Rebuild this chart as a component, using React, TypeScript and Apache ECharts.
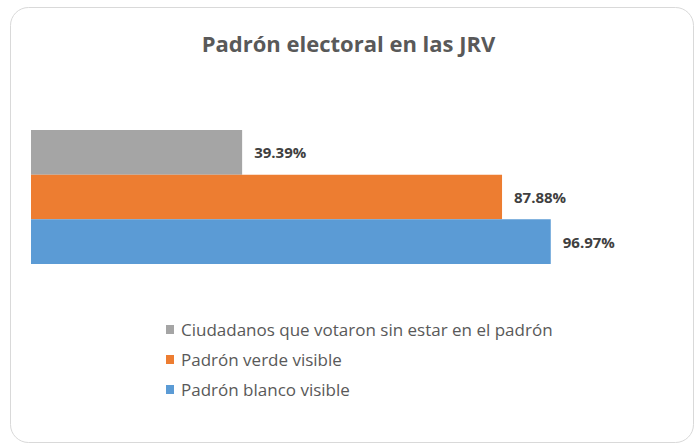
import React, { useEffect, useRef } from "react";
import * as echarts from "echarts";

const titleText = "Padrón electoral en las JRV";
const categories = ["JRV"];
const seriesNames = [
  "Ciudadanos que votaron sin estar en el padrón",
  "Padrón verde visible",
  "Padrón blanco visible",
];
const seriesValues = [39.39, 87.88, 96.97];
const seriesColors = ["#a5a5a5", "#ed7d31", "#5b9bd5"];

const FONT = "'Open Sans', sans-serif";

export default function App() {
  const ref = useRef<HTMLDivElement>(null);
  useEffect(() => {
    if (!ref.current) return;
    const chart = echarts.init(ref.current, undefined, { renderer: "svg" });
    chart.setOption({
      animation: false,
      backgroundColor: "#ffffff",
      graphic: [
        {
          type: "rect",
          left: 10,
          top: 7,
          shape: { width: 683, height: 435, r: 18 },
          style: { fill: "#ffffff", stroke: "#d9d9d9", lineWidth: 1 },
          z: -10,
        },
      ],
      title: {
        text: titleText,
        left: "center",
        top: 27,
        textStyle: {
          fontFamily: FONT,
          fontSize: 22,
          fontWeight: "bold",
          color: "#595959",
        },
      },
      legend: {
        orient: "vertical",
        left: 161,
        top: 316,
        itemGap: 13,
        itemWidth: 8,
        itemHeight: 9,
        icon: "rect",
        data: seriesNames,
        textStyle: { fontFamily: FONT, fontSize: 17, color: "#595959", padding: [0, 0, 0, 2] },
      },
      grid: { left: 31, top: 130, width: 536, height: 134, containLabel: false },
      xAxis: {
        type: "value",
        min: 0,
        max: 100,
        show: false,
      },
      yAxis: {
        type: "category",
        data: categories,
        show: false,
      },
      series: seriesNames.map((name, i) => ({
        name,
        type: "bar",
        data: [seriesValues[i]],
        barGap: "0%",
        barCategoryGap: "0%",
        itemStyle: { color: seriesColors[i] },
        label: {
          show: true,
          position: "right",
          distance: 12,
          formatter: (p: any) => p.value.toFixed(2) + "%",
          fontFamily: FONT,
          fontSize: 15,
          fontWeight: "bold",
          color: "#404040",
        },
      })),
    });
    return () => chart.dispose();
  }, []);
  return (
    <div
      ref={ref}
      style={{ position: "absolute", left: 0, top: 0, width: 697, height: 445 }}
    />
  );
}
